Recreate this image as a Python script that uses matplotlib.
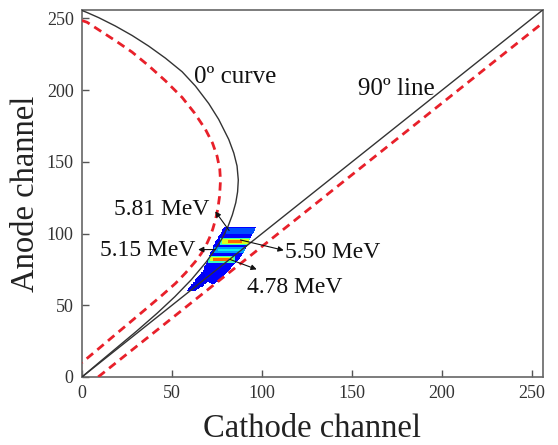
import matplotlib
matplotlib.use('Agg')
import matplotlib.pyplot as plt
from matplotlib.path import Path
import numpy as np

plt.rcParams['font.family'] = ['Liberation Serif', 'DejaVu Serif']

# 0 deg curve (black): (cathode, anode)
curve0_x = [0.0, 2.8, 9.3, 18.5, 27.8, 37.0, 46.3, 55.6, 63.0, 70.4, 75.9, 81.5, 84.3, 86.1, 86.8,
            86.4, 85.4, 83.5, 81.1, 78.0, 74.6, 68.9, 60.7, 51.6, 41.8, 30.4, 20.1, 9.9, 0.0]
curve0_y = [255.5, 254.1, 250.5, 244.7, 238.1, 230.7, 222.3, 212.8, 202.8, 190.6, 179.6, 165.6, 156.1, 147.1, 137.3,
            129.0, 121.5, 113.0, 105.0, 97.0, 90.0, 80.0, 67.8, 56.0, 44.5, 32.0, 21.2, 10.5, 0.0]

# red dashed limit around the 0 deg curve
red0_x = [0.0, 2.8, 9.3, 18.5, 27.8, 37.0, 46.3, 55.6, 62.5, 68.5, 72.5, 75.0, 76.5, 76.9, 76.4, 75.4, 74.2,
          72.6, 70.8, 68.8, 66.2, 63.0, 57.5, 51.9, 44.5, 37.0, 28.0, 18.5, 10.0, 0.0]
red0_y = [248.5, 247.3, 242.0, 234.5, 226.5, 217.0, 206.5, 194.9, 184.0, 172.7, 163.0, 154.0, 145.0, 137.0, 126.0, 117.0, 110.0,
          103.0, 97.0, 91.5, 86.0, 80.5, 72.5, 65.2, 57.0, 49.0, 39.5, 29.5, 20.5, 10.0]

# 90 deg line and its red dashed limit
line90_x = [0, 256]
line90_y = [0, 256]
red90_x = [9, 256]
red90_y = [0, 247]

# outline of the event blob and of its low-energy tail
body_x = [79.0, 96.5, 95.2, 88.7, 78.5, 73.0, 70.0, 67.4, 69.3, 71.1, 74.8]
body_y = [104.5, 104.5, 100.5, 84.1, 70.1, 64.3, 66.0, 74.8, 79.5, 86.5, 95.8]
tail_x = [67.4, 70.0, 63.0, 58.5, 59.5, 64.5]
tail_y = [74.8, 66.0, 60.0, 60.0, 62.5, 70.0]

# brighter spots of the four alpha lines: x0, x1, y0, y1, level
spot_x0 = [80.0, 76.5, 78.0, 81.0, 73.5, 75.5, 70.0, 71.0, 73.0]
spot_x1 = [96.0, 94.0, 93.0, 89.0, 90.5, 88.5, 85.0, 84.0, 81.5]
spot_y0 = [100.0, 91.8, 92.8, 93.6, 86.5, 87.3, 79.5, 80.3, 81.2]
spot_y1 = [104.0, 97.2, 96.2, 95.4, 90.3, 89.5, 84.5, 83.7, 82.8]
spot_lv = [0.2, 0.42, 0.62, 0.8, 0.28, 0.36, 0.42, 0.62, 0.8]

labels = ['5.81 MeV', '5.50 MeV', '5.15 MeV', '4.78 MeV']
label_xy = [(44.5, 117.0), (112.8, 87.0), (36.4, 88.0), (91.5, 62.5)]
label_ha = ['center', 'left', 'center', 'left']
arrow_tail = [(81.7, 102.1), (88.0, 95.5), (74.0, 88.8), (82.0, 82.0)]
arrow_head = [(74.0, 115.4), (112.0, 88.3), (64.5, 88.8), (97.0, 75.0)]

fig = plt.figure(figsize=(5.58, 4.45), dpi=100)
ax = fig.add_axes([0.147, 0.153, 0.826, 0.825])

# build the blob image
gx = np.arange(55, 100.01, 0.5)
gy = np.arange(58, 106.01, 0.5)
cx = (gx[:-1] + gx[1:]) / 2
cy = (gy[:-1] + gy[1:]) / 2
CX, CY = np.meshgrid(cx, cy)
pts = np.column_stack([CX.ravel(), CY.ravel()])
in_body = Path(np.column_stack([body_x, body_y])).contains_points(pts).reshape(CX.shape)
in_tail = Path(np.column_stack([tail_x, tail_y])).contains_points(pts).reshape(CX.shape)
img = np.zeros(CX.shape)
img[in_tail] = 0.1
img[in_body] = 0.12
for x0, x1, y0, y1, lv in zip(spot_x0, spot_x1, spot_y0, spot_y1, spot_lv):
    m = (CX >= x0) & (CX <= x1) & (CY >= y0) & (CY <= y1) & in_body
    img[m] = np.maximum(img[m], lv)
img = np.ma.masked_where(img <= 0, img)
ax.pcolormesh(gx, gy, img, cmap='jet', vmin=0, vmax=1, zorder=2)

ax.plot(curve0_x, curve0_y, color='#333333', lw=1.0, zorder=3)
ax.plot(line90_x, line90_y, color='#333333', lw=1.0, zorder=3)
ax.plot(red0_x, red0_y, color='#e8202a', lw=2.0, ls=(0, (3, 2)), zorder=3)
ax.plot(red90_x, red90_y, color='#e8202a', lw=2.0, ls=(0, (3, 2)), zorder=3)

for t, xy, ha, tail, head in zip(labels, label_xy, label_ha, arrow_tail, arrow_head):
    ax.annotate('', xy=head, xytext=tail,
                arrowprops=dict(arrowstyle='-|>', color='#111111', lw=0.8, mutation_scale=8, shrinkA=0, shrinkB=0),
                zorder=4)
    ax.text(xy[0], xy[1], t, ha=ha, va='center', fontsize=17, color='#111111', zorder=5)

ax.text(85, 209, '0º curve', ha='center', va='center', fontsize=18, color='#111111')
ax.text(174.8, 201, '90º line', ha='center', va='center', fontsize=18, color='#111111')

ax.set_xlim(0, 256)
ax.set_ylim(0, 256)
ax.set_xticks([0, 50, 100, 150, 200, 250])
ax.set_yticks([0, 50, 100, 150, 200, 250])
ax.tick_params(direction='in', length=5, width=1, colors='#555555', labelcolor='#333333', labelsize=13, pad=6)
for s in ax.spines.values():
    s.set_color('#666666')
    s.set_linewidth(1.2)
ax.set_xlabel('Cathode channel', fontsize=23.5, color='#222222', labelpad=8)
ax.set_ylabel('Anode channel', fontsize=23.5, color='#222222', labelpad=4)

plt.savefig('out.png', dpi=100)
